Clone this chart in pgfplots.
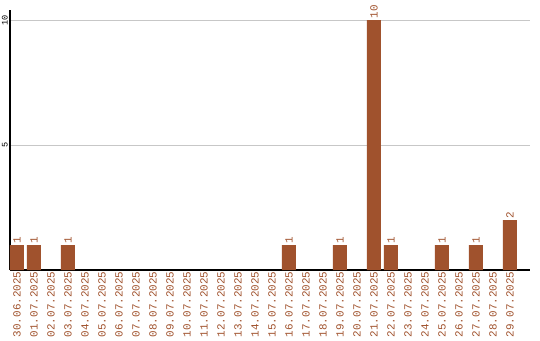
\documentclass[border=0pt]{standalone}
\usepackage{pgfplots}
\pgfplotsset{compat=1.18}
\usepackage{fontspec}
\setmainfont{Liberation Mono}
\definecolor{barbrown}{HTML}{A0522D}
\begin{document}
\begin{tikzpicture}
\begin{axis}[
  at={(0,0)}, anchor=south west,
  scale only axis, width=390pt, height=195pt,
  xmin=-0.41, xmax=30.18, ymin=0, ymax=10.4,
  axis x line*=bottom, axis y line*=left,
  axis line style={-, black, line width=0.9pt},
  /pgf/number format/assume math mode=true,
  ytick={5,10}, ymajorgrids,
  grid style={black!22, line width=0.75pt},
  xtick={0,...,29},
  xticklabels={30.06.2025,01.07.2025,02.07.2025,03.07.2025,04.07.2025,05.07.2025,06.07.2025,07.07.2025,08.07.2025,09.07.2025,10.07.2025,11.07.2025,12.07.2025,13.07.2025,14.07.2025,15.07.2025,16.07.2025,17.07.2025,18.07.2025,19.07.2025,20.07.2025,21.07.2025,22.07.2025,23.07.2025,24.07.2025,25.07.2025,26.07.2025,27.07.2025,28.07.2025,29.07.2025},
  x tick label style={rotate=90, anchor=east, inner sep=1pt, text=barbrown,
    font=\fontsize{8.2}{9}\selectfont},
  y tick label style={rotate=90, anchor=south, inner sep=1.5pt, text=black,
    font=\fontsize{6.4}{7}\selectfont},
  major tick length=0pt,
  ybar, bar width=10.5pt,
  nodes near coords,
  every node near coord/.append style={rotate=90, anchor=west, inner sep=1pt,
    text=barbrown, font=\fontsize{8.2}{9}\selectfont},
]
\addplot[fill=barbrown, draw=none] coordinates {
  (0,1) (1,1) (3,1) (16,1) (19,1) (21,10) (22,1) (25,1) (27,1) (29,2)
};
\end{axis}
\pgfresetboundingbox
\path[use as bounding box] (-7.5pt,-52.5pt) rectangle (397.5pt,202.5pt);
\end{tikzpicture}
\end{document}
